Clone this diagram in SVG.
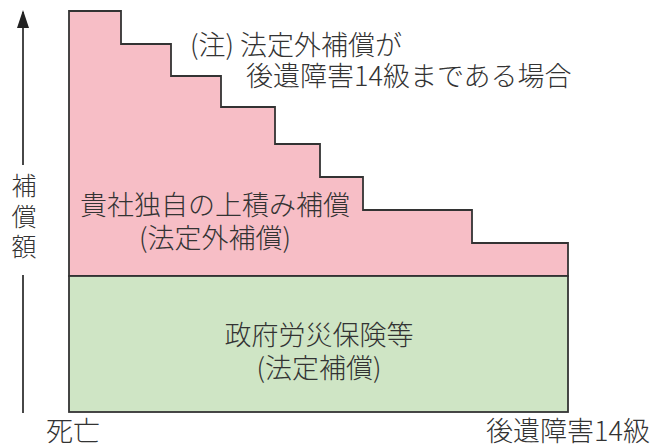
<svg xmlns="http://www.w3.org/2000/svg" width="665" height="445" viewBox="0 0 665 445">
<style>
.t{font-family:"Noto Sans CJK JP","Noto Sans",sans-serif;font-size:27px;font-weight:300;fill:#333}
.m{text-anchor:middle}
.ln{stroke:#333;stroke-width:1.8;fill:none}
</style>
<defs>
<marker id="ah" markerWidth="18" markerHeight="12" refX="16" refY="6" orient="auto" markerUnits="userSpaceOnUse" viewBox="0 0 18 12">
<path d="M0,0 L18,6 L0,12 Z" fill="#222"/>
</marker>
</defs>
<rect width="665" height="445" fill="#fff"/>
<g id="pink">
<path d="M69,276 V11 H121 V44 H171 V76 H221 V107 H275 V144 H320 V177 H363 V210 H472 V243 H568 V276 Z" fill="#F7BEC6" stroke="#333" stroke-width="1.8"/>
<text class="t m" x="215" y="215">貴社独自の上積み補償<tspan x="215" y="248">(法定外補償)</tspan></text>
</g>
<g id="green">
<rect x="69" y="276" width="499" height="136" fill="#CFE5C5" stroke="#333" stroke-width="1.8"/>
<text class="t m" x="319" y="345">政府労災保険等<tspan x="319" y="378">(法定補償)</tspan></text>
</g>
<g id="note">
<text class="t" x="190" y="55">(注) 法定外補償が<tspan x="246" y="86">後遺障害14級まである場合</tspan></text>
</g>
<g id="connectors">
<line class="ln" x1="23" y1="165" x2="23" y2="12" marker-end="url(#ah)"/>
<line class="ln" x1="23" y1="275" x2="23" y2="413"/>
</g>
<g id="axis-labels">
<text class="t" x="24" y="173" style="font-size:25px;writing-mode:vertical-rl;letter-spacing:5.5px">補償額</text>
<text class="t" x="46" y="441">死亡</text>
<text class="t" x="650" y="441" text-anchor="end">後遺障害14級</text>
</g>
</svg>
